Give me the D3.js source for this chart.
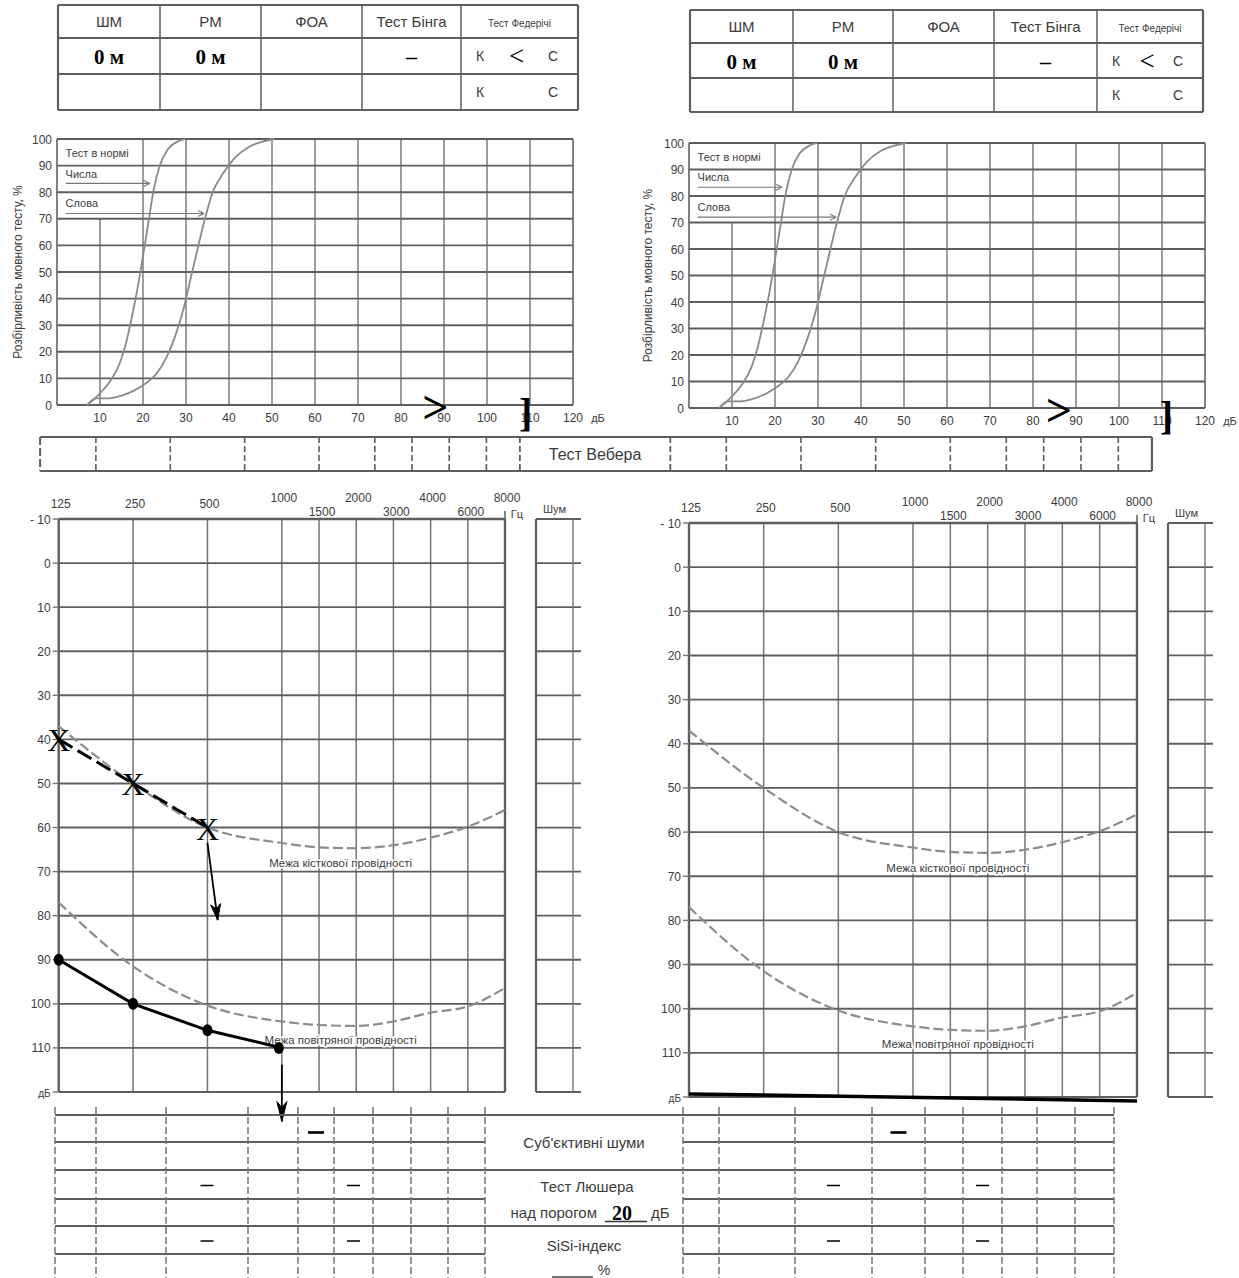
<!DOCTYPE html>
<html><head><meta charset="utf-8">
<script src="https://cdn.jsdelivr.net/npm/d3@7/dist/d3.min.js"></script>
<style>html,body{margin:0;padding:0;background:#fff;} svg{display:block;}</style>
</head><body>
<svg id="chart" width="1239" height="1278"></svg>
<script>
// ================= DATA =================
const tableHeaders = ["ШМ", "РМ", "ФОА", "Тест Бінга", "Тест Федерічі"];
const leftEarTable = ["0 м", "0 м", "", "–"];
const rightEarTable = ["0 м", "0 м", "", "–"];
const federiciSign = "<";
const federiciLetters = ["К", "С"];

const speechDbTicks = [10, 20, 30, 40, 50, 60, 70, 80, 90, 100, 110, 120];
const speechPctTicks = [0, 10, 20, 30, 40, 50, 60, 70, 80, 90, 100];
const numbersDb  = [7, 10, 12.3, 14.6, 16, 17.4, 18.8, 19.7, 21.1, 22.5, 23.9, 25.7, 28, 29.8];
const numbersPct = [0, 4.4, 8.8, 15.7, 23, 33, 44.5, 53, 67, 81, 90, 96, 99, 100];
const wordsDb  = [7, 9, 12, 15, 18, 20.5, 23, 25.5, 27.5, 29.4, 31, 32.6, 34.4, 36.2, 38.6, 41.4, 44.6, 47.8, 50.5];
const wordsPct = [0, 2.5, 2.5, 3.5, 5.5, 8, 11.5, 18, 26, 36, 47, 58, 70, 80, 87, 93, 97, 99, 100];
const speechLegend = ["Тест в нормі", "Числа", "Слова"];
const speechTitle = "Розбірливість мовного тесту, %";
const speechMarksLeft  = [{sym: ">", db: 88}, {sym: "]", db: 109}];
const speechMarksRight = [{sym: ">", db: 86}, {sym: "]", db: 111}];

const audioFreqs = [125, 250, 500, 1000, 1500, 2000, 3000, 4000, 6000, 8000];
const audioUpperLabels = [125, 250, 500];
const audioTopLabels = [1000, 2000, 4000, 8000];
const audioLowerLabels = [1500, 3000, 6000];
const audioDbTicks = [-10, 0, 10, 20, 30, 40, 50, 60, 70, 80, 90, 100, 110, 120];
const audioDbLabels = ["- 10", "0", "10", "20", "30", "40", "50", "60", "70", "80", "90", "100", "110", "дБ"];
const weberFreqs = [125, 250, 500, 1000, 2000, 3000, 4000, 6000, 8000];
const boneLimitDb = [37, 50, 60, 63.5, 64.5, 64.7, 64, 62.3, 59.8, 56];
const airLimitDb  = [77, 91.5, 100.4, 104, 104.8, 105, 104, 102, 100.6, 96.4];
const boneLimitLabel = "Межа кісткової провідності";
const airLimitLabel = "Межа повітряної провідності";

const leftBoneFreq = [125, 250, 500];
const leftBoneDb   = [40, 50, 60];
const leftBoneArrow = {f0: 500, db0: 63.5, f1: 550, db1: 81};
const leftAirFreq  = [125, 250, 500, 1000];
const leftAirDb    = [90, 100, 106, 110];
const leftAirArrow = {f0: 1000, db0: 113.8, f1: 1000, db1: 126.7};
const rightBottomStroke = {f0: 125, db0: 119.3, f1: 8000, db1: 120.9};

const bottomTests = ["Суб'єктивні шуми", "Тест Люшера", "SiSi-індекс"];
const luscherLevel = "20";
const subjNoiseLeftCols = [4], subjNoiseRightCols = [3];
const luscherLeftCols = [2, 5], luscherRightCols = [2, 5];
const sisiLeftCols = [2, 5], sisiRightCols = [2, 5];

// ================= LAYOUT =================
const LAY = {
  topL: {x: [58, 160, 261, 362, 461, 578], y: [5, 38, 74, 110]},
  topR: {x: [690, 793, 893, 994, 1097, 1203], y: [10, 43, 78, 112]},
  speechL: {x: [57, 573], y: [405, 139], title: 18},
  speechR: {x: [689, 1205], y: [408, 143], title: 648},
  audioL: {x: [58.7, 505], y: [519, 1092], labelIdx: 3.79},
  audioR: {x: [689, 1137], y: [523, 1097], labelIdx: 3.6},
  weber: {y: [437, 471]},
  bottomRows: [1115, 1142, 1170, 1199, 1226, 1254],
  bottomLeftX: [55, 96, 166, 248, 298, 334, 373, 411, 448, 485],
  bottomRightX: [683, 719, 795, 872, 925, 963, 1002, 1037, 1075, 1114]
};
const SANS = "'Liberation Sans', Arial, sans-serif";
const SERIF = "'Liberation Serif', 'Times New Roman', serif";
const TXT = "#3c3c3c", LN = "#5e5e5e", LN2 = "#747474";

const svg = d3.select("#chart");
svg.append("rect").attr("width", 1239).attr("height", 1278).attr("fill", "#fff");

function octIdx(f) {
  const l = Math.log2(f / 125);
  const fl = Math.floor(l + 1e-9);
  return Math.abs((l - fl) - Math.log2(1.5)) < 1e-6 ? fl + 0.5 : l;
}
function ln(g, x1, y1, x2, y2, col, w, dash) {
  const l = g.append("line").attr("x1", x1).attr("y1", y1).attr("x2", x2).attr("y2", y2)
    .attr("stroke", col).attr("stroke-width", w);
  if (dash) l.attr("stroke-dasharray", dash);
  return l;
}
function txt(g, x, y, s, size, opts = {}) {
  return g.append("text").attr("x", x).attr("y", y).text(s)
    .attr("font-family", opts.family || SANS).attr("font-size", size)
    .attr("font-weight", opts.weight || "normal")
    .attr("fill", opts.fill || TXT).attr("text-anchor", opts.anchor || "middle");
}

// ================= TOP TABLES =================
function drawTopTable(L, row) {
  const g = svg.append("g");
  L.y.forEach((y, i) => ln(g, L.x[0], y, L.x[5], y, LN, i === 0 || i === 3 ? 2.2 : 1.8));
  L.x.forEach((x, i) => ln(g, x, L.y[0], x, L.y[3], LN, i === 0 || i === 5 ? 2.2 : 1.5));
  tableHeaders.forEach((h, i) => {
    const cx = (L.x[i] + L.x[i + 1]) / 2;
    txt(g, cx, (L.y[0] + L.y[1]) / 2 + 5, h, i === 4 ? 10 : 15);
  });
  row.forEach((v, i) => {
    if (!v) return;
    const cx = (L.x[i] + L.x[i + 1]) / 2;
    const cy = (L.y[1] + L.y[2]) / 2;
    txt(g, cx, cy + 8, v, i === 3 ? 22 : 21, {family: SERIF, weight: "bold", fill: "#000"});
  });
  const fx0 = L.x[4], fx1 = L.x[5];
  [1, 2].forEach(r => {
    const cy = (L.y[r] + L.y[r + 1]) / 2 + 5;
    txt(g, fx0 + 19, cy, federiciLetters[0], 14);
    txt(g, fx1 - 25, cy, federiciLetters[1], 14);
  });
  txt(g, (fx0 + fx1) / 2 - 3, (L.y[1] + L.y[2]) / 2 + 9, federiciSign, 27, {family: SERIF, fill: "#000"});
}
drawTopTable(LAY.topL, leftEarTable);
drawTopTable(LAY.topR, rightEarTable);

// ================= SPEECH CHARTS =================
function drawSpeech(L, marks) {
  const g = svg.append("g");
  const x = d3.scaleLinear().domain([0, 120]).range(L.x);
  const y = d3.scaleLinear().domain([0, 100]).range(L.y);
  g.selectAll("line.v").data([0, ...speechDbTicks]).join("line")
    .attr("x1", d => x(d)).attr("x2", d => x(d))
    .attr("y1", y(0)).attr("y2", d => d === 10 ? y(70) : y(100))
    .attr("stroke", LN2).attr("stroke-width", d => d === 0 || d === 120 ? 1.8 : 1.4);
  g.selectAll("line.h").data(speechPctTicks).join("line")
    .attr("x1", x(0)).attr("x2", x(120)).attr("y1", d => y(d)).attr("y2", d => y(d))
    .attr("stroke", LN).attr("stroke-width", 1.9);
  g.selectAll("text.yl").data(speechPctTicks).join("text")
    .attr("x", x(0) - 5).attr("y", d => y(d) + 4.5).text(d => d)
    .attr("text-anchor", "end").attr("font-family", SANS).attr("font-size", 12).attr("fill", TXT);
  g.selectAll("text.xl").data(speechDbTicks).join("text")
    .attr("x", d => x(d)).attr("y", y(0) + 17).text(d => d)
    .attr("text-anchor", "middle").attr("font-family", SANS).attr("font-size", 12).attr("fill", TXT);
  txt(g, x(120) + 25, y(0) + 17, "дБ", 11);
  g.append("text").attr("transform", `translate(${L.title},${(y(0) + y(100)) / 2}) rotate(-90)`)
    .attr("text-anchor", "middle").attr("font-family", SANS).attr("font-size", 12).attr("fill", TXT)
    .attr("dominant-baseline", "central").text(speechTitle);
  const line = d3.line().x(d => x(d[0])).y(d => y(d[1])).curve(d3.curveMonotoneX);
  g.append("path").attr("d", line(numbersDb.map((d, i) => [d, numbersPct[i]])))
    .attr("fill", "none").attr("stroke", "#8a8a8a").attr("stroke-width", 1.8);
  g.append("path").attr("d", line(wordsDb.map((d, i) => [d, wordsPct[i]])))
    .attr("fill", "none").attr("stroke", "#8a8a8a").attr("stroke-width", 1.8);
  // legend
  txt(g, x(2), y(93.2), speechLegend[0], 11, {anchor: "start"});
  txt(g, x(2), y(85.5), speechLegend[1], 11, {anchor: "start"});
  txt(g, x(2), y(74.5), speechLegend[2], 11, {anchor: "start"});
  [[83.3, 21.6], [72, 34.2]].forEach(([p, db]) => {
    ln(g, x(2), y(p), x(db), y(p), "#777", 1.2);
    ln(g, x(db) - 6, y(p) - 3, x(db), y(p), "#777", 1.2);
    ln(g, x(db) - 6, y(p) + 3, x(db), y(p), "#777", 1.2);
  });
  marks.forEach(m => {
    const s = m.sym === ">" ? 46 : 40;
    txt(g, x(m.db), y(0) + (m.sym === ">" ? 18 : 21), m.sym, s, {family: SERIF, weight: "bold", fill: "#000"});
  });
}
drawSpeech(LAY.speechL, speechMarksLeft);
drawSpeech(LAY.speechR, speechMarksRight);

// ================= AUDIOGRAMS =================
function drawAudio(L) {
  const g = svg.append("g");
  const xi = d3.scaleLinear().domain([0, 6]).range(L.x);
  const fx = f => xi(octIdx(f));
  const y = d3.scaleLinear().domain([-10, 120]).range(L.y);
  g.selectAll("line.v").data(audioFreqs).join("line")
    .attr("x1", d => fx(d)).attr("x2", d => fx(d)).attr("y1", y(-10)).attr("y2", y(120))
    .attr("stroke", d => d === 125 || d === 8000 ? LN : LN2)
    .attr("stroke-width", d => d === 125 || d === 8000 ? 2.4 : 1.5);
  g.selectAll("line.h").data(audioDbTicks).join("line")
    .attr("x1", fx(125)).attr("x2", fx(8000)).attr("y1", d => y(d)).attr("y2", d => y(d))
    .attr("stroke", LN).attr("stroke-width", d => d === -10 ? 2.4 : 1.9);
  g.selectAll("line.t").data(audioDbTicks).join("line")
    .attr("x1", fx(125) - 6).attr("x2", fx(125)).attr("y1", d => y(d)).attr("y2", d => y(d))
    .attr("stroke", LN2).attr("stroke-width", 1.4);
  g.selectAll("text.yl").data(audioDbTicks).join("text")
    .attr("x", fx(125) - 8).attr("y", d => y(d) + 4.5).text((d, i) => audioDbLabels[i])
    .attr("text-anchor", "end").attr("font-family", SANS).attr("font-size", d => d === 120 ? 10 : 12)
    .attr("fill", TXT);
  audioUpperLabels.forEach(f => txt(g, fx(f) + 2, y(-10) - 11, f, 12));
  audioTopLabels.forEach(f => txt(g, fx(f) + 2, y(-10) - 17, f, 12));
  audioLowerLabels.forEach(f => txt(g, fx(f) + 3, y(-10) - 3, f, 12));
  ln(g, fx(8000), y(-10) - 8, fx(8000), y(-10), LN, 1.5);
  txt(g, fx(8000) + 12, y(-10) - 1, "Гц", 11);
  // noise column
  const n0 = fx(8000) + 31, n1 = fx(8000) + 68;
  g.selectAll("line.n").data(audioDbTicks).join("line")
    .attr("x1", n0).attr("x2", n1 + 8).attr("y1", d => y(d)).attr("y2", d => y(d))
    .attr("stroke", LN).attr("stroke-width", 1.8);
  ln(g, n0, y(-10), n0, y(120), LN, 2.2);
  ln(g, n1, y(-10), n1, y(120), LN2, 1.4);
  txt(g, (n0 + n1) / 2, y(-10) - 6, "Шум", 11);
  // limit curves
  const line = d3.line().x(d => fx(d[0])).y(d => y(d[1])).curve(d3.curveMonotoneX);
  [boneLimitDb, airLimitDb].forEach(arr => {
    g.append("path").attr("d", line(audioFreqs.map((f, i) => [f, arr[i]])))
      .attr("fill", "none").attr("stroke", "#8c8c8c").attr("stroke-width", 2.2)
      .attr("stroke-dasharray", "10,4");
  });
  const lx = xi(L.labelIdx);
  const lab1 = txt(g, lx, y(69), boneLimitLabel, 11.5);
  const lab2 = txt(g, lx, y(109), airLimitLabel, 11.5);
  [lab1, lab2].forEach(t => t.attr("paint-order", "stroke").attr("stroke", "#fff").attr("stroke-width", 3));
  return {g, fx, y, xi};
}
const AL = drawAudio(LAY.audioL);
const AR = drawAudio(LAY.audioR);

// left ear data
(function () {
  const {g, fx, y} = AL;
  const bl = d3.line().x(d => fx(d[0])).y(d => y(d[1]));
  g.append("path").attr("d", bl(leftBoneFreq.map((f, i) => [f, leftBoneDb[i]])))
    .attr("fill", "none").attr("stroke", "#000").attr("stroke-width", 3).attr("stroke-dasharray", "16,6");
  leftBoneFreq.forEach((f, i) => {
    txt(g, fx(f), y(leftBoneDb[i]) + 12, "X", 32, {family: SERIF, fill: "#000"});
  });
  const arrow = (a, head) => {
    const x1 = fx(a.f0), y1 = y(a.db0), x2 = fx(a.f1), y2 = y(a.db1);
    ln(g, x1, y1, x2, y2, "#000", 1.8);
    const ang = Math.atan2(y2 - y1, x2 - x1);
    const hl = head, hw = 5;
    const p = (l, w) => [x2 - l * Math.cos(ang) - w * Math.sin(ang), y2 - l * Math.sin(ang) + w * Math.cos(ang)];
    g.append("path").attr("d", d3.line()([p(hl, hw), [x2, y2], p(hl, -hw), p(hl * 0.7, 0), p(hl, hw)]))
      .attr("fill", "#000").attr("stroke", "#000").attr("stroke-width", 1);
  };
  arrow(leftBoneArrow, 16);
  g.append("path").attr("d", bl(leftAirFreq.map((f, i) => [f, leftAirDb[i]])))
    .attr("fill", "none").attr("stroke", "#000").attr("stroke-width", 3);
  leftAirFreq.forEach((f, i) => {
    g.append("ellipse").attr("cx", fx(f) - (f === 1000 ? 3 : 0)).attr("cy", y(leftAirDb[i]))
      .attr("rx", 5).attr("ry", 6).attr("fill", "#000");
  });
  arrow(leftAirArrow, 20);
})();
// right ear: bottom stroke
(function () {
  const {g, fx, y} = AR;
  const s = rightBottomStroke;
  ln(g, fx(s.f0), y(s.db0), fx(s.f1), y(s.db1), "#000", 3.5);
})();

// ================= WEBER =================
(function () {
  const g = svg.append("g");
  const [yT, yB] = LAY.weber.y;
  const idx = weberFreqs.map(octIdx);
  const mids = idx.slice(1).map((v, i) => (v + idx[i]) / 2);
  const xl0 = AL.xi(-0.25), xl1 = AL.xi(6.2), xr0 = AR.xi(-0.25), xr1 = AR.xi(6.2);
  ln(g, xl0, yT, xr1, yT, LN, 2.2);
  ln(g, xl0, yB, xr1, yB, LN, 2.2);
  ln(g, xl0, yT, xl0, yB, LN, 2, "8,3");
  ln(g, xr1, yT, xr1, yB, LN, 2.2);
  [xl1, xr0].forEach(x => ln(g, x, yT, x, yB, LN, 1.8, "6,3"));
  mids.forEach(m => {
    ln(g, AL.xi(m), yT, AL.xi(m), yB, LN, 1.6, "6,3");
    ln(g, AR.xi(m), yT, AR.xi(m), yB, LN, 1.6, "6,3");
  });
  txt(g, (xl1 + xr0) / 2, (yT + yB) / 2 + 6, "Тест Вебера", 16);
})();

// ================= BOTTOM TABLES =================
(function () {
  const g = svg.append("g");
  const R = LAY.bottomRows, XL = LAY.bottomLeftX, XR = LAY.bottomRightX;
  const xl0 = XL[0], xl1 = XL[XL.length - 1], xr0 = XR[0], xr1 = XR[XR.length - 1];
  R.forEach(y => {
    ln(g, xl0, y, xl1, y, LN, 1.8);
    ln(g, xr0, y, xr1, y, LN, 1.8);
  });
  [R[0], R[2], R[4]].forEach(y => ln(g, xl1, y, xr0, y, LN, 1.8));
  [...XL, ...XR].forEach(x => ln(g, x, R[0] - 8, x, 1278, LN2, 1.5, "7,3"));
  const cx = (xl1 + xr0) / 2;
  txt(g, cx, (R[0] + R[2]) / 2 + 5, bottomTests[0], 15);
  txt(g, cx + 3, (R[2] + R[3]) / 2 + 7, bottomTests[1], 15);
  txt(g, 597, (R[3] + R[4]) / 2 + 5, "над порогом", 15, {anchor: "end"});
  txt(g, 622, (R[3] + R[4]) / 2 + 7, luscherLevel, 20, {family: SERIF, weight: "bold", fill: "#000"});
  ln(g, 605, (R[3] + R[4]) / 2 + 9, 647, (R[3] + R[4]) / 2 + 9, "#333", 1.5);
  txt(g, 651, (R[3] + R[4]) / 2 + 5, "дБ", 15, {anchor: "start"});
  txt(g, cx, (R[4] + R[5]) / 2 + 11, bottomTests[2], 15);
  txt(g, 604, R[5] + 21, "%", 14);
  ln(g, 552, R[5] + 23, 593, R[5] + 23, "#444", 1.5);
  const colC = (X, c) => (X[c] + X[c + 1]) / 2;
  const dash = (X, c, row, thick) => {
    const xc = colC(X, c), yc = (R[row] + R[row + 1]) / 2 + (thick ? 4 : 1);
    const hw = thick ? 8 : 6.5;
    ln(g, xc - hw, yc, xc + hw, yc, "#000", thick ? 2.6 : 1.5);
  };
  subjNoiseLeftCols.forEach(c => dash(XL, c, 0, true));
  subjNoiseRightCols.forEach(c => dash(XR, c, 0, true));
  luscherLeftCols.forEach(c => dash(XL, c, 2, false));
  luscherRightCols.forEach(c => dash(XR, c, 2, false));
  sisiLeftCols.forEach(c => dash(XL, c, 4, false));
  sisiRightCols.forEach(c => dash(XR, c, 4, false));
})();
</script>
</body></html>
